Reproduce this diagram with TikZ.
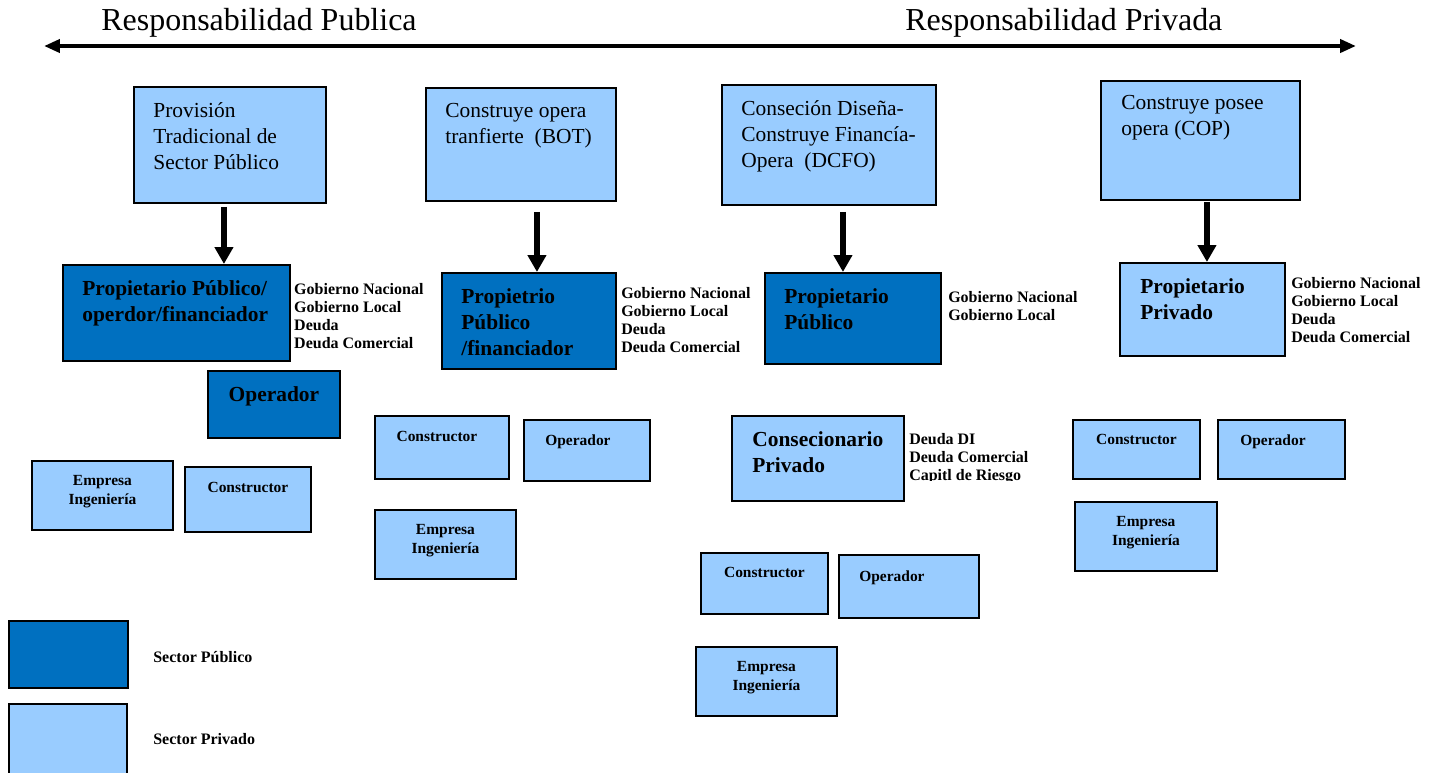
\documentclass[tikz,border=0pt]{standalone}
\usepackage{fontspec}
\setmainfont{Liberation Serif}
\usepackage{xcolor}
\usepackage{tikz}
\usetikzlibrary{positioning, arrows.meta}
\definecolor{privfill}{HTML}{99CCFF}
\definecolor{pubfill}{HTML}{0070C0}
\tikzset{
  pbox/.style   = {rectangle, draw=black, line width=1.1pt, fill=privfill,
                   inner sep=0pt, anchor=north west},
  gbox/.style   = {rectangle, draw=black, line width=1.1pt, fill=pubfill,
                   inner sep=0pt, anchor=north west},
  hdtxt/.style  = {font=\fontsize{18.2}{22}\selectfont, anchor=base west, inner sep=0pt},
  bigtxt/.style = {font=\fontsize{12.2}{14.8}\selectfont, align=left, inner sep=0pt},
  bigbf/.style  = {font=\fontsize{12.2}{14.8}\selectfont\bfseries, align=left, inner sep=0pt},
  lbl/.style    = {font=\fontsize{9.1}{10.25}\selectfont\bfseries, align=left, inner sep=0pt},
  smtxt/.style  = {font=\fontsize{8.8}{10.8}\selectfont\bfseries, align=center, inner sep=0pt},
  harr/.style   = {-{Triangle[length=0.34cm,width=0.36cm]}, line width=3.4pt, draw=black},
  hdarr/.style  = {{Triangle[length=0.32cm,width=0.26cm]}-{Triangle[length=0.32cm,width=0.26cm]},
                   line width=2.3pt, draw=black},
}

\begin{document}
\begin{tikzpicture}[x=0.02cm, y=-0.02cm]
  \useasboundingbox (0,0) rectangle (1436,772);

  % ----- header -----
  \node[hdtxt] (hdpub) at (101,30) {Responsabilidad Publica};
  \node[hdtxt] (hdpriv) at (905,30) {Responsabilidad Privada};
  \coordinate (hdl) at (44,46);
  \coordinate (hdr) at (1356,46);
  \draw[hdarr] (hdl) -- (hdr);

  % ----- column 1: provision tradicional -----
  \node[pbox, minimum width=3.84cm, minimum height=2.32cm] (trad) at (133,86) {};
  \node[bigtxt, below right=0.32cm and 0.4cm of trad.north west] (tradtxt)
       {Provisión\\Tradicional de\\Sector Público};

  \node[gbox, minimum width=4.54cm, minimum height=1.92cm] (ppo) at (62,264) {};
  \node[bigbf, below right=0.32cm and 0.4cm of ppo.north west] (ppotxt)
       {Propietario Público/\\operdor/financiador};
  \node[lbl, below right=0.38cm and 0.06cm of ppo.north east] (ppolbl)
       {Gobierno Nacional\\Gobierno Local\\Deuda\\Deuda Comercial};

  \node[gbox, minimum width=2.64cm, minimum height=1.34cm] (op1) at (207,370) {};
  \node[bigbf, below=0.32cm of op1.north] (op1txt) {Operador};

  \node[pbox, minimum width=2.82cm, minimum height=1.38cm] (emp1) at (31,460) {};
  \node[smtxt, below=0.3cm of emp1.north] (emp1txt) {Empresa\\Ingeniería};
  \node[pbox, minimum width=2.52cm, minimum height=1.30cm] (cons1) at (184,466) {};
  \node[smtxt, below=0.32cm of cons1.north] (cons1txt) {Constructor};

  \draw[harr] ([xshift=-0.12cm, yshift=-0.06cm]trad.south)
           -- ([xshift=-0.12cm]trad.south |- ppo.north);

  % ----- column 2: BOT -----
  \node[pbox, minimum width=3.80cm, minimum height=2.26cm] (bot) at (425,87) {};
  \node[bigtxt, below right=0.32cm and 0.4cm of bot.north west] (bottxt)
       {Construye opera\\tranfierte~ (BOT)};

  \node[gbox, minimum width=3.48cm, minimum height=1.92cm] (ppf) at (441,272) {};
  \node[bigbf, below right=0.32cm and 0.4cm of ppf.north west] (ppftxt)
       {Propietrio\\Público\\/financiador};
  \node[lbl, below right=0.3cm and 0.08cm of ppf.north east] (ppflbl)
       {Gobierno Nacional\\Gobierno Local\\Deuda\\Deuda Comercial};

  \node[pbox, minimum width=2.68cm, minimum height=1.26cm] (cons2) at (374,415) {};
  \node[smtxt, below=0.32cm of cons2.north, xshift=-0.1cm] (cons2txt) {Constructor};
  \node[pbox, minimum width=2.52cm, minimum height=1.22cm] (op2) at (523,419) {};
  \node[smtxt, below=0.3cm of op2.north, xshift=-0.18cm] (op2txt) {Operador};
  \node[pbox, minimum width=2.82cm, minimum height=1.38cm] (emp2) at (374,509) {};
  \node[smtxt, below=0.3cm of emp2.north] (emp2txt) {Empresa\\Ingeniería};

  \draw[harr] ([xshift=0.32cm, yshift=-0.2cm]bot.south)
           -- ([xshift=0.32cm]bot.south |- ppf.north);

  % ----- column 3: DCFO -----
  \node[pbox, minimum width=4.28cm, minimum height=2.40cm] (dcfo) at (721,84) {};
  \node[bigtxt, below right=0.32cm and 0.4cm of dcfo.north west] (dcfotxt)
       {Conseción Diseña-\\Construye Financía-\\Opera~ (DCFO)};

  \node[gbox, minimum width=3.52cm, minimum height=1.82cm] (pp3) at (764,272) {};
  \node[bigbf, below right=0.32cm and 0.4cm of pp3.north west] (pp3txt)
       {Propietario\\Público};
  \node[lbl, below right=0.38cm and 0.12cm of pp3.north east] (pp3lbl)
       {Gobierno Nacional\\Gobierno Local};

  \node[pbox, minimum width=3.44cm, minimum height=1.70cm] (conc) at (731,415) {};
  \node[bigbf, below right=0.32cm and 0.42cm of conc.north west] (conctxt)
       {Consecionario\\Privado};
  \begin{scope}
    \clip (900,420) rectangle (1060,480);
    \node[lbl, below right=0.36cm and 0.08cm of conc.north east] (conclbl)
         {Deuda DI\\Deuda Comercial\\Capitl de Riesgo};
  \end{scope}

  \node[pbox, minimum width=2.54cm, minimum height=1.22cm] (cons3) at (700,552) {};
  \node[smtxt, below=0.3cm of cons3.north] (cons3txt) {Constructor};
  \node[pbox, minimum width=2.80cm, minimum height=1.26cm] (op3) at (838,554) {};
  \node[smtxt, below=0.32cm of op3.north, xshift=-0.34cm] (op3txt) {Operador};
  \node[pbox, minimum width=2.82cm, minimum height=1.38cm] (emp3) at (695,646) {};
  \node[smtxt, below=0.3cm of emp3.north] (emp3txt) {Empresa\\Ingeniería};

  \draw[harr] ([xshift=0.28cm, yshift=-0.12cm]dcfo.south)
           -- ([xshift=0.28cm]dcfo.south |- pp3.north);

  % ----- column 4: COP -----
  \node[pbox, minimum width=3.98cm, minimum height=2.38cm] (cop) at (1100,80) {};
  \node[bigtxt, below right=0.3cm and 0.42cm of cop.north west] (coptxt)
       {Construye posee\\opera (COP)};

  \node[pbox, minimum width=3.30cm, minimum height=1.86cm] (ppr) at (1119,262) {};
  \node[bigbf, below right=0.32cm and 0.42cm of ppr.north west] (pprtxt)
       {Propietario\\Privado};
  \node[lbl, below right=0.3cm and 0.1cm of ppr.north east] (pprlbl)
       {Gobierno Nacional\\Gobierno Local\\Deuda\\Deuda Comercial};

  \node[pbox, minimum width=2.54cm, minimum height=1.18cm] (cons4) at (1072,419) {};
  \node[smtxt, below=0.3cm of cons4.north] (cons4txt) {Constructor};
  \node[pbox, minimum width=2.54cm, minimum height=1.18cm] (op4) at (1217,419) {};
  \node[smtxt, below=0.3cm of op4.north, xshift=-0.17cm] (op4txt) {Operador};
  \node[pbox, minimum width=2.84cm, minimum height=1.38cm] (emp4) at (1074,501) {};
  \node[smtxt, below=0.3cm of emp4.north] (emp4txt) {Empresa\\Ingeniería};

  \draw[harr] ([xshift=0.13cm, yshift=-0.02cm]cop.south)
           -- ([xshift=0.13cm]cop.south |- ppr.north);

  % ----- legend -----
  \node[gbox, minimum width=2.38cm, minimum height=1.34cm] (legpub) at (8,620) {};
  \node[lbl, anchor=west] (legpubtxt) at (153,657) {Sector Público};
  \node[pbox, minimum width=2.36cm, minimum height=1.46cm] (legpriv) at (8,703) {};
  \node[lbl, anchor=west] (legprivtxt) at (153,739) {Sector Privado};

\end{tikzpicture}
\end{document}
